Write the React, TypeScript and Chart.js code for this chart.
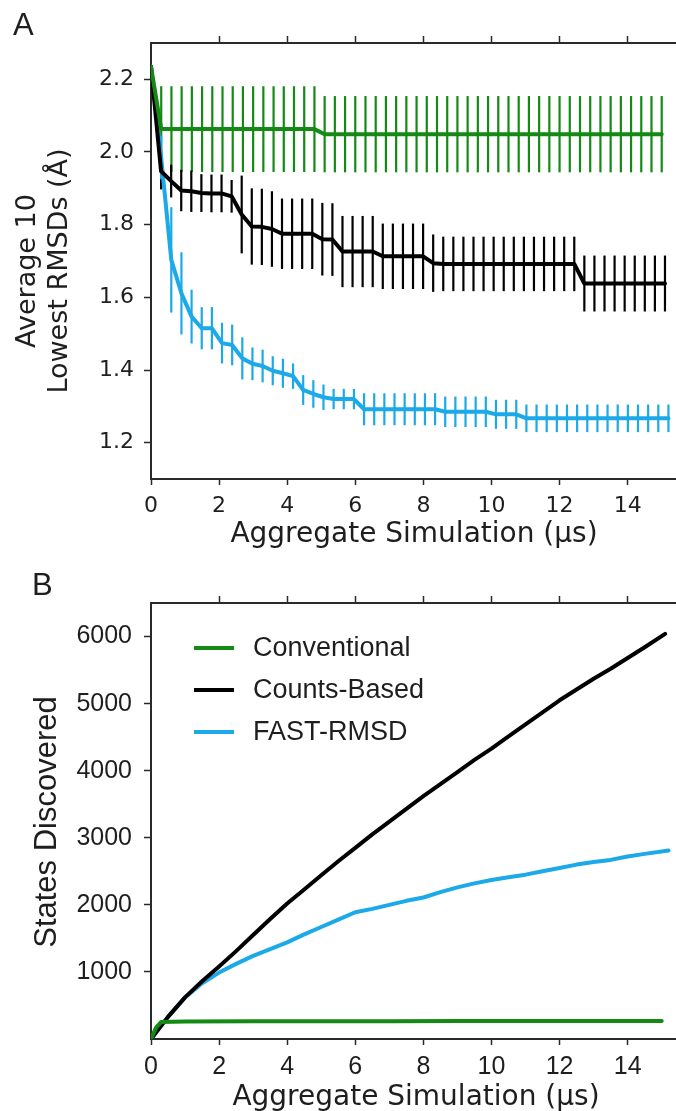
import React, { useEffect, useRef } from "react";
import { Chart, registerables } from "chart.js";

Chart.register(...registerables);

// ---------- Panel A: average of the 10 lowest RMSDs (Å) per sampling round ----------
// Round spacing in aggregate simulation time (µs) for each method
const CONV_ROUND_STEP = 0.3;
const COUNTS_ROUND_STEP = 0.296;
const FAST_ROUND_STEP = 0.298;

const CONV_RMSD = [
  2.235,
  2.063, 2.063, 2.063, 2.063, 2.063, 2.063, 2.063, 2.063,
  2.063, 2.063, 2.063, 2.063, 2.063, 2.063, 2.063, 2.063,
  2.049, 2.049, 2.049, 2.049, 2.049, 2.049, 2.049, 2.049, 2.049, 2.049,
  2.049, 2.049, 2.049, 2.049, 2.049, 2.049, 2.049, 2.049, 2.049, 2.049,
  2.049, 2.049, 2.049, 2.049, 2.049, 2.049, 2.049, 2.049, 2.049, 2.049,
  2.049, 2.049, 2.049, 2.049,
];
const CONV_RMSD_ERR = [
  0,
  0.118, 0.118, 0.118, 0.118, 0.118, 0.118, 0.118, 0.118,
  0.118, 0.118, 0.118, 0.118, 0.118, 0.118, 0.118, 0.118,
  0.105, 0.105, 0.105, 0.105, 0.105, 0.105, 0.105, 0.105, 0.105, 0.105,
  0.105, 0.105, 0.105, 0.105, 0.105, 0.105, 0.105, 0.105, 0.105, 0.105,
  0.105, 0.105, 0.105, 0.105, 0.105, 0.105, 0.105, 0.105, 0.105, 0.105,
  0.105, 0.105, 0.105, 0.105,
];

const COUNTS_RMSD = [
  2.235,
  1.947, 1.92, 1.894, 1.892, 1.887, 1.886, 1.886, 1.878, 1.828, 1.795,
  1.794, 1.788, 1.775, 1.775, 1.775, 1.775, 1.76, 1.759, 1.726, 1.726,
  1.726, 1.726, 1.713, 1.713, 1.713, 1.713, 1.713, 1.694, 1.692, 1.692,
  1.692, 1.692, 1.692, 1.692, 1.692, 1.692, 1.692, 1.692, 1.692, 1.692,
  1.692, 1.692, 1.638, 1.638, 1.638, 1.638, 1.638, 1.638, 1.638, 1.638,
  1.638,
];
const COUNTS_RMSD_ERR = [
  0,
  0.05, 0.045, 0.057, 0.057, 0.052, 0.052, 0.052, 0.045, 0.107, 0.105,
  0.105, 0.104, 0.097, 0.097, 0.097, 0.097, 0.1, 0.1, 0.098, 0.098,
  0.098, 0.098, 0.09, 0.09, 0.09, 0.09, 0.09, 0.079, 0.075, 0.075,
  0.075, 0.075, 0.075, 0.075, 0.075, 0.075, 0.075, 0.075, 0.075, 0.075,
  0.075, 0.075, 0.077, 0.077, 0.077, 0.077, 0.077, 0.077, 0.077, 0.077,
  0.077,
];

const FAST_RMSD = [
  2.235,
  1.985, 1.703, 1.611, 1.547, 1.515, 1.515, 1.474, 1.469, 1.432, 1.417,
  1.411, 1.398, 1.391, 1.383, 1.345, 1.334, 1.325, 1.32, 1.32, 1.32,
  1.292, 1.292, 1.292, 1.292, 1.292, 1.292, 1.292, 1.292, 1.285, 1.285,
  1.285, 1.285, 1.285, 1.278, 1.278, 1.278, 1.267, 1.267, 1.267, 1.267,
  1.267, 1.267, 1.267, 1.267, 1.267, 1.267, 1.267, 1.267, 1.267, 1.267,
  1.267,
];
const FAST_RMSD_ERR = [
  0,
  0.06, 0.145, 0.113, 0.074, 0.058, 0.058, 0.056, 0.056, 0.058, 0.045,
  0.045, 0.04, 0.04, 0.035, 0.041, 0.038, 0.035, 0.028, 0.028, 0.028,
  0.044, 0.044, 0.044, 0.044, 0.044, 0.044, 0.044, 0.044, 0.042, 0.042,
  0.042, 0.042, 0.042, 0.04, 0.04, 0.04, 0.038, 0.038, 0.038, 0.038,
  0.038, 0.038, 0.038, 0.038, 0.038, 0.038, 0.038, 0.038, 0.038, 0.038,
  0.038,
];

// ---------- Panel B: number of states discovered ----------
const CONV_STATE_TIMES = [0, 0.15, 0.3, 1, 3, 5, 7, 9, 11, 13, 15];
const CONV_STATES = [0, 170, 255, 262, 263, 264, 266, 267, 268, 269, 270];

const COUNTS_STATE_TIMES = [
  0, 0.5, 1, 1.5, 2, 2.5, 3, 3.5, 4, 4.5, 5, 5.5, 6, 6.5, 7, 7.5,
  8, 8.5, 9, 9.5, 10, 10.5, 11, 11.5, 12, 12.5, 13, 13.5, 14, 14.5, 15.1,
];
const COUNTS_STATES = [
  0, 330, 620, 860, 1080, 1310, 1550, 1790, 2020, 2230, 2440, 2650, 2850, 3050, 3240, 3430,
  3620, 3800, 3980, 4160, 4330, 4510, 4690, 4870, 5050, 5210, 5370, 5520, 5680, 5840, 6040,
];

const FAST_STATE_TIMES = [
  0, 0.5, 1, 1.5, 2, 2.5, 3, 3.5, 4, 4.5, 5, 5.5, 6, 6.5, 7, 7.5,
  8, 8.5, 9, 9.5, 10, 10.5, 11, 11.5, 12, 12.5, 13, 13.5, 14, 14.5, 15.2,
];
const FAST_STATES = [
  0, 330, 620, 830, 990, 1120, 1240, 1340, 1440, 1560, 1670, 1780, 1890, 1940, 2000, 2060,
  2110, 2190, 2260, 2320, 2370, 2410, 2450, 2500, 2550, 2600, 2640, 2670, 2720, 2760, 2810,
];

// ---------- Axis ticks and labels ----------
const TIME_TICKS = [0, 2, 4, 6, 8, 10, 12, 14];
const TIME_TOP_TICKS = [2, 4, 6, 8, 10, 12, 14];
const RMSD_TICKS = [1.2, 1.4, 1.6, 1.8, 2.0, 2.2];
const STATE_TICKS = [1000, 2000, 3000, 4000, 5000, 6000];

const METHOD_LABELS = ["Conventional", "Counts-Based", "FAST-RMSD"];
const X_TITLE = "Aggregate Simulation (\u00b5s)";
const RMSD_TITLE = ["Average 10", "Lowest RMSDs (\u00c5)"];
const STATES_TITLE = "States Discovered";

// ---------- Styling ----------
const GREEN = "#148a14";
const BLACK = "#000000";
const BLUE = "#1ba9e8";
const METHOD_COLORS = [GREEN, BLACK, BLUE];
const INK = "#1e1e1e";
const AXIS = "#2a2a2a";
const SANS_WIDE = "'DejaVu Sans', sans-serif";
const SANS = "'Liberation Sans', Arial, sans-serif";

const WIDTH = 676;
const PANEL_A_HEIGHT = 560;
const PANEL_B_HEIGHT = 551;
const PLOT_LEFT = 151;
const PLOT_TOP = 43;
const PLOT_BOTTOM = 479;
const TIME_MAX = 15.42;

const roundTimes = (step: number, count: number) =>
  Array.from({ length: count }, (_, i) => Math.round(i * step * 1000) / 1000);

const toPoints = (xs: number[], ys: number[]) => ys.map((y, i) => ({ x: xs[i], y }));

// Vertical error bars drawn underneath the mean lines
const errorBarPlugin = {
  id: "errorBars",
  beforeDatasetsDraw(chart: any) {
    const { ctx } = chart;
    const xs = chart.scales.x;
    const ys = chart.scales.y;
    ctx.save();
    ctx.beginPath();
    ctx.rect(chart.chartArea.left, chart.chartArea.top, chart.chartArea.width, chart.chartArea.height);
    ctx.clip();
    chart.data.datasets.forEach((ds: any) => {
      if (!ds.errors) return;
      ctx.strokeStyle = ds.borderColor;
      ctx.lineWidth = 2.2;
      ds.data.forEach((p: any, i: number) => {
        const e = ds.errors[i];
        if (!e) return;
        const px = xs.getPixelForValue(p.x);
        ctx.beginPath();
        ctx.moveTo(px, ys.getPixelForValue(p.y + e));
        ctx.lineTo(px, ys.getPixelForValue(p.y - e));
        ctx.stroke();
      });
    });
    ctx.restore();
  },
};

// Panel letter, axis titles and the optional legend
const decorPlugin = {
  id: "panelDecor",
  afterDraw(chart: any, _args: any, opts: any) {
    const { ctx } = chart;
    ctx.save();
    ctx.fillStyle = INK;

    ctx.font = opts.letterFont;
    ctx.textAlign = "left";
    ctx.textBaseline = "alphabetic";
    ctx.fillText(opts.letter, opts.letterX, opts.letterY);

    ctx.font = opts.xTitleFont;
    ctx.textAlign = "center";
    ctx.fillText(opts.xTitle, opts.xTitleX, opts.xTitleY);

    ctx.font = opts.yTitleFont;
    opts.yTitle.forEach((line: string, i: number) => {
      ctx.save();
      ctx.translate(opts.yTitleX[i], opts.yTitleCenter);
      ctx.rotate(-Math.PI / 2);
      ctx.textAlign = "center";
      ctx.textBaseline = "alphabetic";
      ctx.fillText(line, 0, 0);
      ctx.restore();
    });

    if (opts.legend) {
      const lg = opts.legend;
      ctx.font = lg.font;
      ctx.textAlign = "left";
      ctx.textBaseline = "middle";
      chart.data.datasets.forEach((ds: any, i: number) => {
        const y = lg.top + i * lg.rowGap;
        ctx.strokeStyle = ds.borderColor;
        ctx.lineWidth = 4;
        ctx.beginPath();
        ctx.moveTo(lg.lineX0, y);
        ctx.lineTo(lg.lineX1, y);
        ctx.stroke();
        ctx.fillStyle = INK;
        ctx.fillText(ds.label, lg.textX, y + 1);
      });
    }
    ctx.restore();
  },
};

const frame = (tickFont: any, padding: number, tickLength: number) => ({
  border: { display: true, color: AXIS, width: 2 },
  grid: {
    drawOnChartArea: false,
    drawTicks: true,
    tickLength,
    tickWidth: 1.5,
    tickColor: AXIS,
  },
  ticks: { color: INK, font: tickFont, padding },
});

const buildScales = (
  yMin: number,
  yMax: number,
  yTicks: number[],
  yFmt: (v: number) => string,
  tickFont: any,
  bottomHeight: number,
  yPad: number,
  xPad: number
) => ({
  x: {
    type: "linear",
    position: "bottom",
    min: 0,
    max: TIME_MAX,
    ...frame(tickFont, xPad, 6),
    afterBuildTicks: (s: any) => {
      s.ticks = TIME_TICKS.map((value) => ({ value }));
    },
    afterFit: (s: any) => {
      s.height = bottomHeight;
    },
  },
  xTop: {
    type: "linear",
    position: "top",
    min: 0,
    max: TIME_MAX,
    ...frame(tickFont, 0, 7),
    ticks: { display: false },
    afterBuildTicks: (s: any) => {
      s.ticks = TIME_TOP_TICKS.map((value) => ({ value }));
    },
    afterFit: (s: any) => {
      s.height = PLOT_TOP;
    },
  },
  y: {
    type: "linear",
    position: "left",
    min: yMin,
    max: yMax,
    ...frame(tickFont, yPad, 7),
    ticks: { color: INK, font: tickFont, padding: yPad, callback: (v: any) => yFmt(Number(v)) },
    afterBuildTicks: (s: any) => {
      s.ticks = yTicks.map((value) => ({ value }));
    },
    afterFit: (s: any) => {
      s.width = PLOT_LEFT;
    },
  },
});

const lineDataset = (label: string, color: string, data: any[], errors?: number[]) => ({
  type: "line",
  label,
  data,
  errors,
  borderColor: color,
  backgroundColor: color,
  borderWidth: 4,
  pointRadius: 0,
  tension: 0,
  fill: false,
  borderJoinStyle: "round",
  borderCapStyle: "round",
});

function RmsdPanel() {
  const ref = useRef<HTMLCanvasElement>(null);
  useEffect(() => {
    if (!ref.current) return;
    const convT = roundTimes(CONV_ROUND_STEP, CONV_RMSD.length);
    const countsT = roundTimes(COUNTS_ROUND_STEP, COUNTS_RMSD.length);
    const fastT = roundTimes(FAST_ROUND_STEP, FAST_RMSD.length);
    const chart = new Chart(ref.current, {
      type: "line",
      data: {
        datasets: [
          lineDataset(METHOD_LABELS[0], METHOD_COLORS[0], toPoints(convT, CONV_RMSD), CONV_RMSD_ERR),
          lineDataset(METHOD_LABELS[1], METHOD_COLORS[1], toPoints(countsT, COUNTS_RMSD), COUNTS_RMSD_ERR),
          lineDataset(METHOD_LABELS[2], METHOD_COLORS[2], toPoints(fastT, FAST_RMSD), FAST_RMSD_ERR),
        ] as any,
      },
      options: {
        responsive: false,
        animation: false,
        devicePixelRatio: 1,
        layout: { padding: 0 },
        scales: buildScales(
          1.1,
          2.3,
          RMSD_TICKS,
          (v) => v.toFixed(1),
          { family: SANS_WIDE, size: 22 },
          PANEL_A_HEIGHT - PLOT_BOTTOM,
          10,
          8
        ) as any,
        plugins: {
          legend: { display: false },
          tooltip: { enabled: false },
          panelDecor: {
            letter: "A",
            letterX: 13,
            letterY: 35,
            letterFont: `31px ${SANS}`,
            xTitle: X_TITLE,
            xTitleX: 414,
            xTitleY: 542,
            xTitleFont: `28px ${SANS_WIDE}`,
            yTitle: RMSD_TITLE,
            yTitleX: [35, 67],
            yTitleCenter: 271,
            yTitleFont: `27px ${SANS_WIDE}`,
          },
        } as any,
      },
      plugins: [errorBarPlugin, decorPlugin],
    });
    return () => chart.destroy();
  }, []);
  return (
    <canvas
      ref={ref}
      width={WIDTH}
      height={PANEL_A_HEIGHT}
      style={{ position: "absolute", left: 0, top: 0, width: WIDTH, height: PANEL_A_HEIGHT }}
    />
  );
}

function StatesPanel() {
  const ref = useRef<HTMLCanvasElement>(null);
  useEffect(() => {
    if (!ref.current) return;
    const chart = new Chart(ref.current, {
      type: "line",
      data: {
        datasets: [
          lineDataset(METHOD_LABELS[0], METHOD_COLORS[0], toPoints(CONV_STATE_TIMES, CONV_STATES)),
          lineDataset(METHOD_LABELS[1], METHOD_COLORS[1], toPoints(COUNTS_STATE_TIMES, COUNTS_STATES)),
          lineDataset(METHOD_LABELS[2], METHOD_COLORS[2], toPoints(FAST_STATE_TIMES, FAST_STATES)),
        ] as any,
      },
      options: {
        responsive: false,
        animation: false,
        devicePixelRatio: 1,
        layout: { padding: 0 },
        scales: buildScales(
          0,
          6500,
          STATE_TICKS,
          (v) => String(v),
          { family: SANS, size: 25 },
          PANEL_B_HEIGHT - PLOT_BOTTOM,
          12,
          7
        ) as any,
        plugins: {
          legend: { display: false },
          tooltip: { enabled: false },
          panelDecor: {
            letter: "B",
            letterX: 32,
            letterY: 35,
            letterFont: `31px ${SANS}`,
            xTitle: X_TITLE,
            xTitleX: 416,
            xTitleY: 545,
            xTitleFont: `28px ${SANS_WIDE}`,
            yTitle: [STATES_TITLE],
            yTitleX: [56],
            yTitleCenter: 262,
            yTitleFont: `31px ${SANS}`,
            legend: {
              font: `27px ${SANS}`,
              top: 88,
              rowGap: 42,
              lineX0: 194,
              lineX1: 234,
              textX: 253,
            },
          },
        } as any,
      },
      plugins: [decorPlugin],
    });
    return () => chart.destroy();
  }, []);
  return (
    <canvas
      ref={ref}
      width={WIDTH}
      height={PANEL_B_HEIGHT}
      style={{ position: "absolute", left: 0, top: PANEL_A_HEIGHT, width: WIDTH, height: PANEL_B_HEIGHT }}
    />
  );
}

export default function App() {
  return (
    <div
      style={{
        position: "absolute",
        left: 0,
        top: 0,
        width: WIDTH,
        height: PANEL_A_HEIGHT + PANEL_B_HEIGHT,
        background: "#ffffff",
        overflow: "hidden",
      }}
    >
      <RmsdPanel />
      <StatesPanel />
    </div>
  );
}
